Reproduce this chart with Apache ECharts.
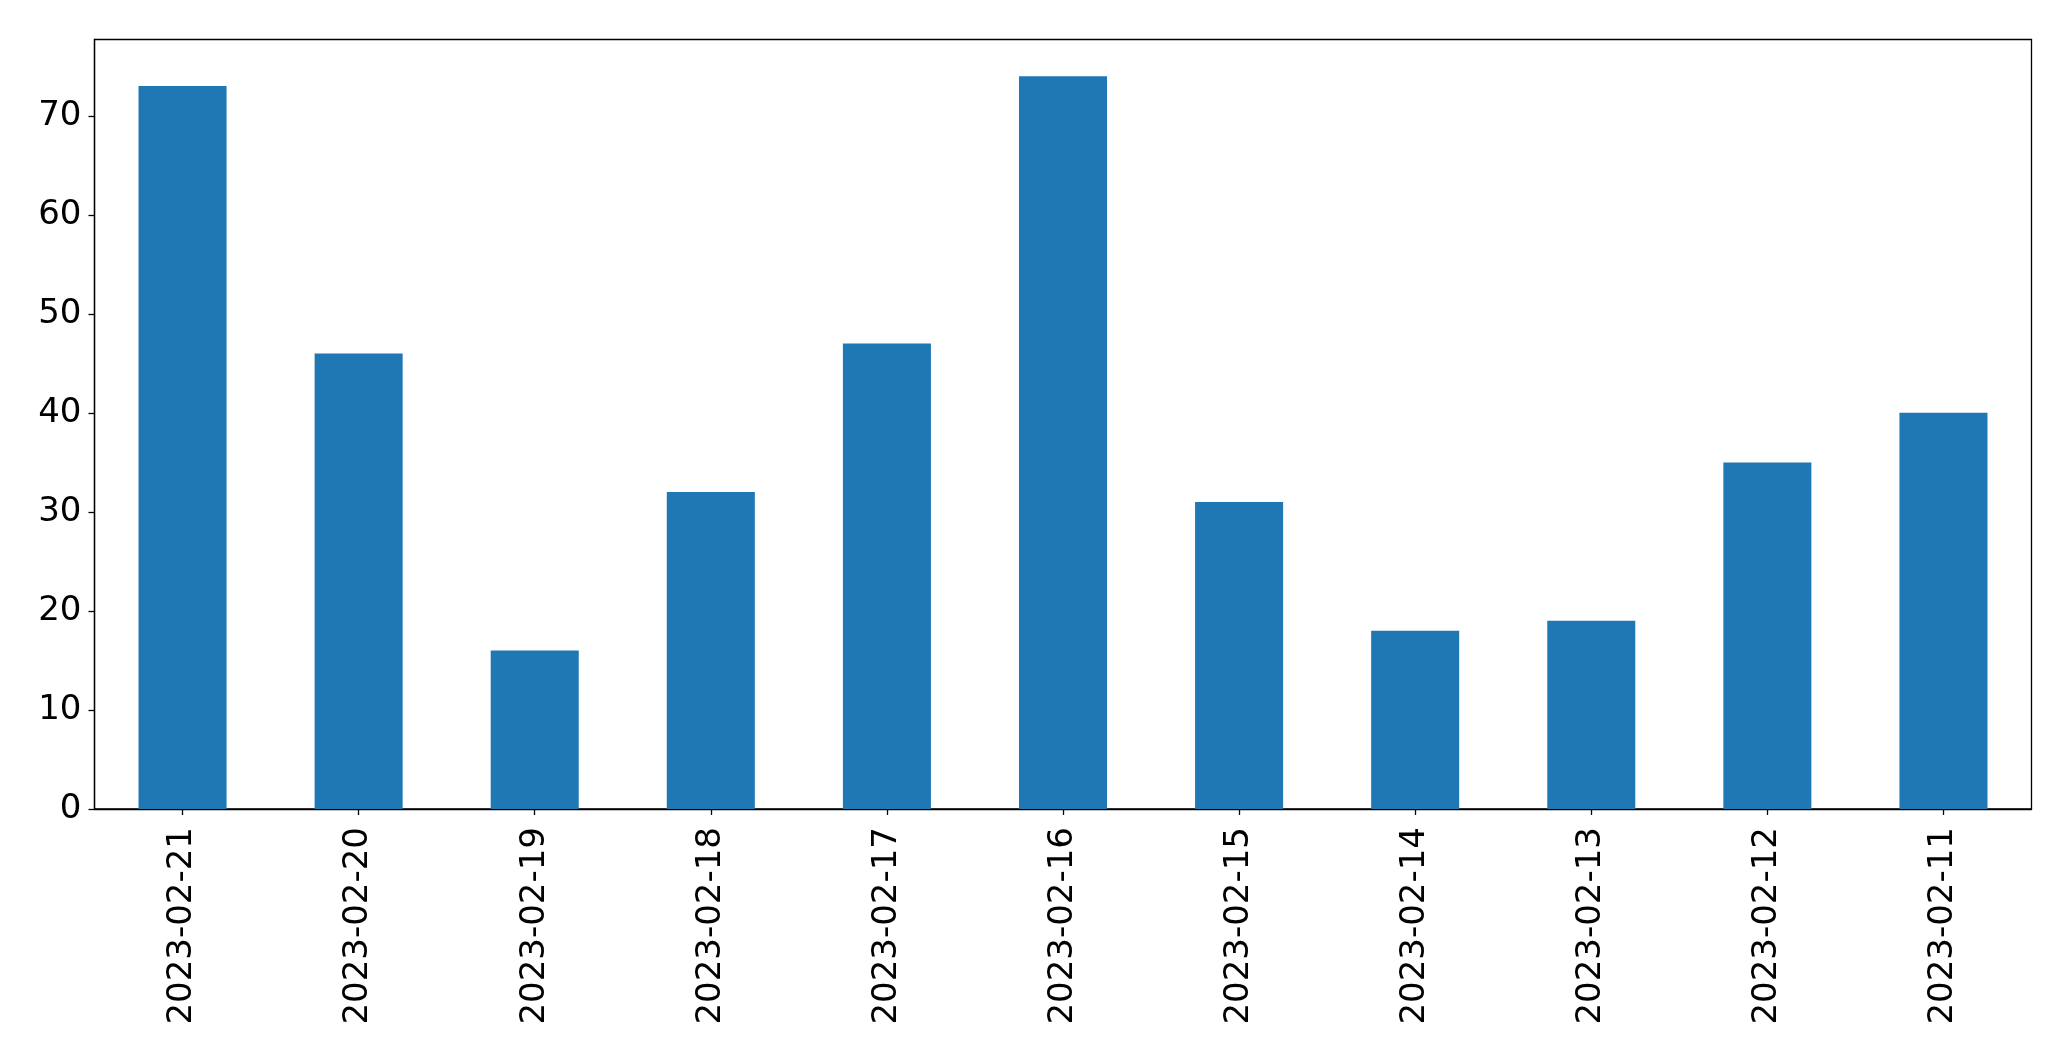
<!DOCTYPE html>
<html>
<head>
<meta charset="utf-8">
<script src="https://cdn.jsdelivr.net/npm/echarts@6/dist/echarts.min.js"></script>
<style>
html,body{margin:0;padding:0;background:#fff;}
#chart{width:2071px;height:1061px;}
</style>
</head>
<body>
<div id="chart"></div>
<script>
const categories = ["2023-02-21","2023-02-20","2023-02-19","2023-02-18","2023-02-17","2023-02-16","2023-02-15","2023-02-14","2023-02-13","2023-02-12","2023-02-11"];
const values = [73, 46, 16, 32, 47, 74, 31, 18, 19, 35, 40];
const yTicks = [0, 10, 20, 30, 40, 50, 60, 70];

const chart = echarts.init(document.getElementById('chart'));
const font = "DejaVu Sans";
chart.setOption({
  animation: false,
  backgroundColor: '#ffffff',
  grid: {
    left: 94.5, right: 39.5, top: 39.5, bottom: 252,
    show: true, borderColor: '#000', borderWidth: 1.3, backgroundColor: 'transparent'
  },
  xAxis: {
    type: 'category',
    data: categories,
    axisLine: { show: true, lineStyle: { color: '#000', width: 1.3 } },
    axisTick: { show: true, alignWithLabel: true, length: 6, lineStyle: { color: '#000', width: 1.3 } },
    axisLabel: { rotate: 90, margin: 18, fontSize: 34, fontFamily: font, color: '#000', interval: 0 },
    splitLine: { show: false }
  },
  yAxis: {
    type: 'value',
    min: 0, max: 77.7, interval: 10,
    axisLine: { show: true, lineStyle: { color: '#000', width: 1.3 } },
    axisTick: { show: true, length: 6, lineStyle: { color: '#000', width: 1.3 } },
    axisLabel: {
      margin: 13, fontSize: 34, fontFamily: font, color: '#000',
      showMaxLabel: false,
      formatter: function (v) { return yTicks.indexOf(v) >= 0 ? String(v) : ''; }
    },
    splitLine: { show: false }
  },
  series: [{
    type: 'bar',
    data: values,
    barWidth: '50%',
    itemStyle: { color: '#1f77b4' }
  }]
});
</script>
</body>
</html>
